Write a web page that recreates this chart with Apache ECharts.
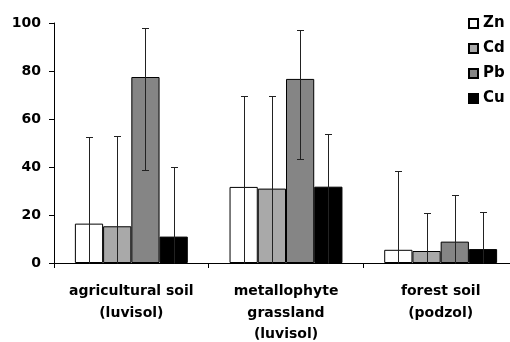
<!DOCTYPE html>
<html>
<head>
<meta charset="utf-8">
<script src="https://cdn.jsdelivr.net/npm/echarts@6/dist/echarts.min.js"></script>
<style>html,body{margin:0;padding:0;background:#fff}#c{width:510px;height:342px}</style>
</head>
<body>
<div id="c"></div>
<script>
var categories = ['agricultural soil\n(luvisol)', 'metallophyte\ngrassland\n(luvisol)', 'forest soil\n(podzol)'];
var metals = ['Zn', 'Cd', 'Pb', 'Cu'];
var znValues = [16.4, 31.7, 5.5];
var cdValues = [15.3, 31.0, 5.0];
var pbValues = [77.5, 76.7, 8.9];
var cuValues = [11.0, 31.8, 5.8];
var znErrHigh = [52.5, 69.4, 38.2];
var cdErrHigh = [52.9, 69.4, 20.8];
var pbErrHigh = [98.0, 96.9, 28.3];
var cuErrHigh = [40.1, 53.6, 21.2];
var znErrLow = [0, 0, 0];
var cdErrLow = [0, 0, 0];
var pbErrLow = [38.9, 43.3, 0];
var cuErrLow = [0, 0, 0];
var yTicks = [0, 20, 40, 60, 80, 100];

var colors = ['#ffffff', '#a9a9a9', '#858585', '#000000'];
var values = [znValues, cdValues, pbValues, cuValues];
var errHigh = [znErrHigh, cdErrHigh, pbErrHigh, cuErrHigh];
var errLow = [znErrLow, cdErrLow, pbErrLow, cuErrLow];
var gapRatio = 0.27;
var FONT = 'DejaVu Sans';

var series = [];
metals.forEach(function (m, i) {
  series.push({
    name: m, type: 'bar', data: values[i],
    barGap: '0%', barCategoryGap: (gapRatio * 100) + '%',
    itemStyle: { color: colors[i], borderColor: '#000', borderWidth: 1 },
    emphasis: { disabled: true }, z: 2
  });
});
metals.forEach(function (m, i) {
  var d = [];
  for (var k = 0; k < categories.length; k++) d.push([k, errHigh[i][k], errLow[i][k], i]);
  series.push({
    name: 'err' + m, type: 'custom', data: d, z: 5, silent: true,
    renderItem: function (params, api) {
      var cat = api.value(0), hi = api.value(1), lo = api.value(2), s = api.value(3);
      var catW = api.size([1, 0])[0];
      var barW = catW * (1 - gapRatio) / 4;
      var x = Math.round(api.coord([cat, 0])[0] + (s - 1.5) * barW) + 0.5;
      var yHi = Math.round(api.coord([cat, hi])[1]) + 0.5;
      var yLo = Math.round(api.coord([cat, lo])[1]) + 0.5;
      var cap = 3.5;
      var st = { stroke: '#222', lineWidth: 1 };
      var ch = [
        { type: 'line', shape: { x1: x, y1: yHi, x2: x, y2: yLo }, style: st },
        { type: 'line', shape: { x1: x - cap, y1: yHi, x2: x + cap, y2: yHi }, style: st }
      ];
      if (lo > 0) ch.push({ type: 'line', shape: { x1: x - cap, y1: yLo, x2: x + cap, y2: yLo }, style: st });
      return { type: 'group', children: ch };
    }
  });
});

var chart = echarts.init(document.getElementById('c'), null, { renderer: 'canvas' });
chart.setOption({
  animation: false,
  backgroundColor: '#fff',
  grid: { left: 54, width: 464, top: 23, bottom: 79, containLabel: false, outerBoundsMode: 'none' },
  legend: {
    data: metals.map(function (m) { return { name: m, icon: 'rect' }; }),
    orient: 'vertical', left: 468, top: 16, padding: 0,
    itemWidth: 9, itemHeight: 9, itemGap: 10,
    textStyle: { fontFamily: FONT, fontWeight: 'bold', fontSize: 15, color: '#000', lineHeight: 15 },
    selectedMode: false
  },
  xAxis: {
    type: 'category', data: categories,
    axisLine: { lineStyle: { color: '#000', width: 1 } },
    axisTick: { show: true, length: 5, lineStyle: { color: '#000' } },
    axisLabel: { fontFamily: FONT, fontWeight: 'bold', fontSize: 14, color: '#000', lineHeight: 21.5, margin: 18, interval: 0 }
  },
  yAxis: {
    type: 'value', min: yTicks[0], max: yTicks[yTicks.length - 1], interval: 20,
    axisLine: { show: true, lineStyle: { color: '#000', width: 1 } },
    axisTick: { show: true, length: 5, lineStyle: { color: '#000' } },
    splitLine: { show: false },
    axisLabel: { fontFamily: FONT, fontWeight: 'bold', fontSize: 14, color: '#000', margin: 13 }
  },
  series: series
});
</script>
</body>
</html>
